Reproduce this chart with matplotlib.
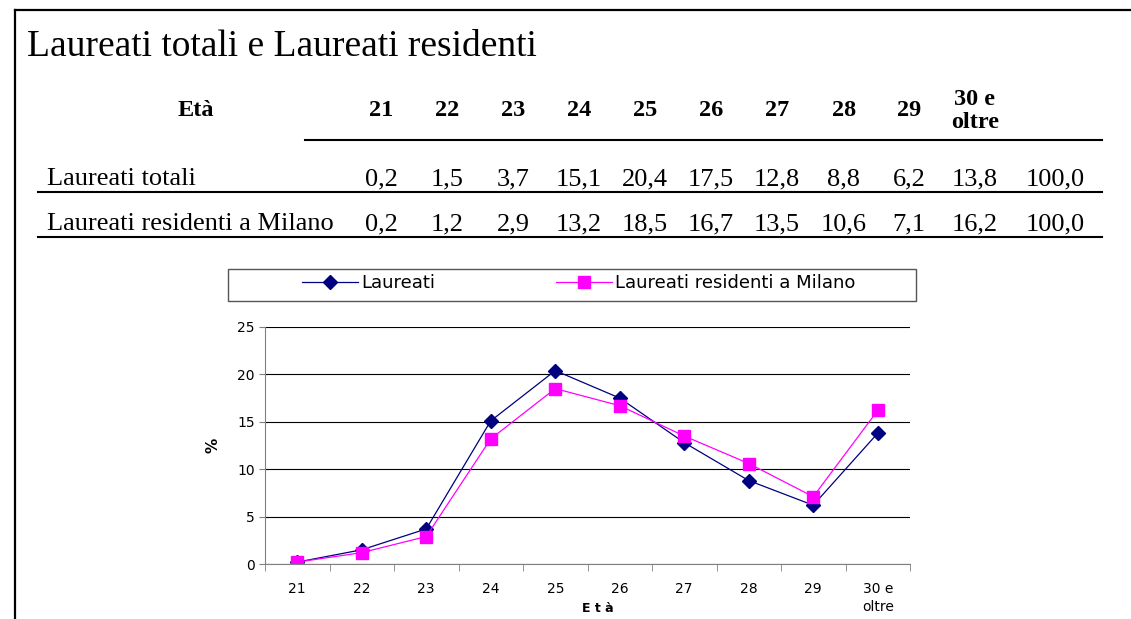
import matplotlib
matplotlib.use("Agg")
import matplotlib.pyplot as plt
from matplotlib.lines import Line2D
from matplotlib.patches import Rectangle

# dati
eta = ['21', '22', '23', '24', '25', '26', '27', '28', '29', '30 e\noltre']
laureati_totali = [0.2, 1.5, 3.7, 15.1, 20.4, 17.5, 12.8, 8.8, 6.2, 13.8]
laureati_milano = [0.2, 1.2, 2.9, 13.2, 18.5, 16.7, 13.5, 10.6, 7.1, 16.2]
totale = [100.0, 100.0]

W, H = 1131, 619


def fx(x):
    return x / W


def fy(y):
    return 1 - y / H


def fmt(v):
    return ('%.1f' % v).replace('.', ',')


fig = plt.figure(figsize=(W / 100, H / 100), dpi=100)
serif = 'Liberation Serif'

# cornice della slide
fig.add_artist(Line2D([fx(15), 1], [fy(10), fy(10)], color='black', lw=1.6))
fig.add_artist(Line2D([fx(15), fx(15)], [fy(10), 0], color='black', lw=1.6))

fig.text(fx(27), fy(47), 'Laureati totali e Laureati residenti', fontsize=27,
         family=serif, va='center', ha='left')

# tabella
col_x = [381, 447, 513, 579, 645, 711, 777, 844, 909, 975]
fig.text(fx(196), fy(111), 'Età', fontsize=17.5, family=serif, weight='bold',
         ha='center', va='center')
for x, lab in zip(col_x, eta):
    fig.text(fx(x), fy(111), lab, fontsize=17.5, family=serif, weight='bold',
             ha='center', va='center', linespacing=1.15)
fig.add_artist(Line2D([fx(305), fx(1102)], [fy(140), fy(140)], color='black', lw=1.5))

rows = [('Laureati totali', laureati_totali, 179, 192),
        ('Laureati residenti a Milano', laureati_milano, 224, 237)]
for (nome, vals, y, yl), tot in zip(rows, totale):
    fig.text(fx(47), fy(y), nome, fontsize=19, family=serif, ha='left', va='center')
    for x, v in zip(col_x, vals):
        fig.text(fx(x), fy(y), fmt(v), fontsize=19, family=serif, ha='center', va='center')
    fig.text(fx(1055), fy(y), fmt(tot), fontsize=19, family=serif, ha='center', va='center')
    fig.add_artist(Line2D([fx(38), fx(1102)], [fy(yl), fy(yl)], color='black', lw=1.5))

# grafico
ax = fig.add_axes([fx(265), fy(564), fx(910) - fx(265), fy(327) - fy(564)])
xs = range(len(eta))
l1, = ax.plot(xs, laureati_totali, color='#000080', lw=0.9, marker='D',
              markersize=7, label='Laureati')
l2, = ax.plot(xs, laureati_milano, color='#FF00FF', lw=0.9, marker='s',
              markersize=8.5, label='Laureati residenti a Milano')

ax.set_xlim(-0.5, len(eta) - 0.5)
ax.set_ylim(0, 25)
ax.set_yticks([0, 5, 10, 15, 20, 25])
ax.yaxis.grid(True, color='black', lw=0.8)
ax.set_axisbelow(True)
for s in ['top', 'right']:
    ax.spines[s].set_visible(False)
ax.spines['left'].set_color('#808080')
ax.spines['bottom'].set_color('#808080')

ax.set_xticks(list(xs))
ax.set_xticklabels(eta, fontsize=10, linespacing=1.4)
ax.set_xticks([i - 0.5 for i in range(len(eta) + 1)], minor=True)
ax.tick_params(axis='x', which='major', length=0, pad=13)
ax.tick_params(axis='x', which='minor', length=5, color='#808080')
ax.tick_params(axis='y', length=4, labelsize=10, color='#808080')
ax.set_ylabel('%', fontsize=11, weight='bold', labelpad=12)
fig.text(fx(598), fy(609), 'E t à', fontsize=9, weight='bold', ha='center', va='center')

# legenda
fig.add_artist(Rectangle((fx(228), fy(301)), fx(916) - fx(228), fy(269) - fy(301),
                         fill=False, edgecolor='#555555', lw=1.0))
fig.legend(handles=[l1, l2], loc='center left', bbox_to_anchor=(fx(302), fy(283)),
           ncol=2, frameon=False, handlelength=3.1, handletextpad=0.17,
           columnspacing=6.7, borderpad=0, borderaxespad=0,
           prop={'family': 'DejaVu Sans', 'size': 13})

fig.savefig('out.png', dpi=100)
